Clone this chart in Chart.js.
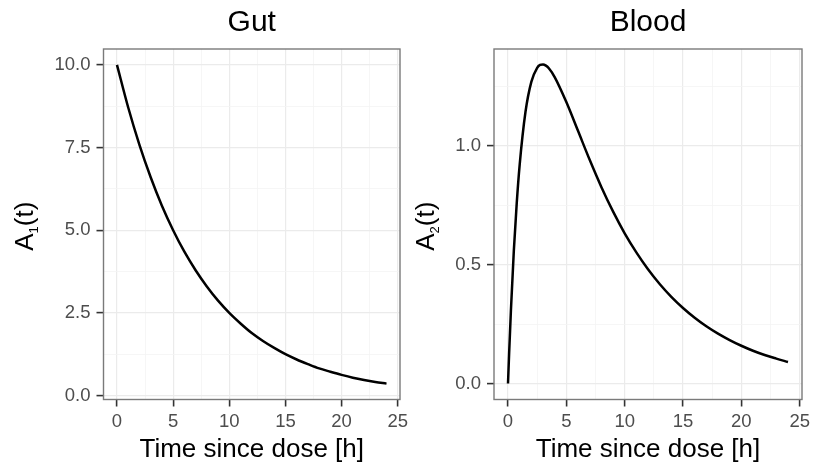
<!DOCTYPE html>
<html>
<head>
<meta charset="utf-8">
<script src="https://cdn.jsdelivr.net/npm/chart.js@4.4.0/dist/chart.umd.min.js"></script>
<style>
  html, body { margin: 0; padding: 0; background: #fff; }
  .panel { position: absolute; top: 0; height: 463px; }
  #gutBox { left: 0; width: 420px; }
  #bloodBox { left: 406px; width: 407px; }
</style>
</head>
<body>
<div class="panel" id="gutBox"><canvas id="gutChart"></canvas></div>
<div class="panel" id="bloodBox"><canvas id="bloodChart"></canvas></div>
<script>
// values
const gutTime = [0, 1, 2, 3, 4, 5, 6, 7, 8, 9, 10, 11, 12, 13, 14, 15, 16, 17, 18, 19, 20, 21, 22, 23, 24];
const gutAmount = [10.0, 8.71, 7.58, 6.60, 5.74, 5.00, 4.35, 3.79, 3.30, 2.87, 2.50, 2.18, 1.89, 1.65, 1.44,
                   1.25, 1.09, 0.95, 0.82, 0.72, 0.625, 0.54, 0.47, 0.41, 0.36];

const bloodTime = [0, 0.1, 0.25, 0.5, 0.75, 1, 1.5, 2, 2.5, 2.75, 3, 3.25, 3.5, 4, 5, 6, 7, 8, 9, 10,
                   11, 12, 13, 14, 15, 16, 17, 18, 19, 20, 21, 22, 23, 24];
const bloodAmount = [0, 0.131, 0.308, 0.559, 0.760, 0.920, 1.143, 1.269, 1.328, 1.340, 1.342, 1.337, 1.326,
                     1.289, 1.184, 1.063, 0.941, 0.827, 0.724, 0.632, 0.552, 0.481, 0.419, 0.365, 0.318,
                     0.277, 0.241, 0.210, 0.183, 0.159, 0.138, 0.120, 0.105, 0.091];

const timeMajor = [0, 5, 10, 15, 20, 25];
const timeMinor = [2.5, 7.5, 12.5, 17.5, 22.5];
const gutMajor = [0, 2.5, 5, 7.5, 10];
const gutMinor = [1.25, 3.75, 6.25, 8.75];
const bloodMajor = [0, 0.5, 1.0];
const bloodMinor = [0.25, 0.75, 1.25];

const FONT = '"Liberation Sans", Arial, Helvetica, sans-serif';

const isIn = (arr, v) => arr.some(a => Math.abs(a - v) < 1e-9);

// ggplot-like panel border, drawn over the curve
const panelBorder = {
    id: 'panelBorder',
    afterDatasetsDraw(chart) {
        const { ctx, chartArea: a } = chart;
        ctx.save();
        ctx.strokeStyle = '#7a7a7a';
        ctx.lineWidth = 1.4;
        ctx.strokeRect(a.left, a.top, a.right - a.left, a.bottom - a.top);
        ctx.restore();
    }
};

// panel title centred over the panel, and y title with a real subscript: A_n(t)
const labels = {
    id: 'labels',
    afterDraw(chart, args, opts) {
        const { ctx, chartArea: a } = chart;
        const big = '26px ' + FONT;
        const small = '13px ' + FONT;
        ctx.save();
        ctx.fillStyle = '#000';
        ctx.font = '30px ' + FONT;
        ctx.textAlign = 'center';
        ctx.textBaseline = 'middle';
        ctx.fillText(opts.title, (a.left + a.right) / 2, 23);

        ctx.translate(a.left - opts.offset, (a.top + a.bottom) / 2 + 2);
        ctx.rotate(-Math.PI / 2);
        ctx.textBaseline = 'alphabetic';
        ctx.textAlign = 'left';
        ctx.font = big;
        const wA = ctx.measureText('A').width;
        const wR = ctx.measureText('(t)').width;
        ctx.font = small;
        const wS = ctx.measureText(opts.sub).width;
        let x = -(wA + wS + wR) / 2;
        ctx.font = big;
        ctx.fillText('A', x, 0);
        x += wA;
        ctx.font = small;
        ctx.fillText(opts.sub, x, 4.5);
        x += wS;
        ctx.font = big;
        ctx.fillText('(t)', x, 0);
        ctx.restore();
    }
};

const makeChart = (id, title, xs, ys, yMin, yMax, yMajor, yMinor, yAxisWidth, rightPad, sub, titleOffset) => {
    const ctx = document.getElementById(id).getContext('2d');
    const points = xs.map((t, i) => ({ x: t, y: ys[i] }));

    new Chart(ctx, {
        type: 'line',
        data: {
            datasets: [{
                data: points,
                borderColor: '#000',
                borderWidth: 2.5,
                pointRadius: 0,
                fill: false,
                cubicInterpolationMode: 'monotone'
            }]
        },
        options: {
            responsive: true,
            maintainAspectRatio: false,
            animation: false,
            layout: { padding: { left: 0, right: rightPad, top: 49, bottom: 0 } },
            scales: {
                x: {
                    type: 'linear',
                    min: -1.2,
                    max: 25.2,
                    afterBuildTicks: s => { s.ticks = [...timeMajor, ...timeMinor].sort((a, b) => a - b).map(v => ({ value: v })); },
                    afterFit: s => { s.height = 63.5; s.paddingLeft = 0; s.paddingRight = 0; },
                    border: { display: false },
                    grid: {
                        color: c => isIn(timeMajor, c.tick.value) ? '#ebebeb' : '#f4f4f4',
                        lineWidth: c => isIn(timeMajor, c.tick.value) ? 1.2 : 0.8,
                        tickLength: 7,
                        tickColor: c => isIn(timeMajor, c.tick.value) ? '#333' : 'rgba(0,0,0,0)',
                        tickWidth: 1.6
                    },
                    ticks: {
                        autoSkip: false,
                        maxRotation: 0,
                        padding: 4,
                        color: '#4d4d4d',
                        font: { family: FONT, size: 18.5 },
                        callback: v => isIn(timeMajor, v) ? String(v) : ''
                    },
                    title: {
                        display: true,
                        text: 'Time since dose [h]',
                        color: '#000',
                        font: { family: FONT, size: 26, lineHeight: 1 },
                        padding: { top: 0, bottom: 0 }
                    }
                },
                y: {
                    min: yMin,
                    max: yMax,
                    afterBuildTicks: s => { s.ticks = [...yMajor, ...yMinor].sort((a, b) => a - b).map(v => ({ value: v })); },
                    afterFit: s => { s.width = yAxisWidth; s.paddingTop = 0; s.paddingBottom = 0; },
                    border: { display: false },
                    grid: {
                        color: c => isIn(yMajor, c.tick.value) ? '#ebebeb' : '#f4f4f4',
                        lineWidth: c => isIn(yMajor, c.tick.value) ? 1.2 : 0.8,
                        tickLength: 7,
                        tickColor: c => isIn(yMajor, c.tick.value) ? '#333' : 'rgba(0,0,0,0)',
                        tickWidth: 1.6
                    },
                    ticks: {
                        autoSkip: false,
                        padding: 6,
                        color: '#4d4d4d',
                        font: { family: FONT, size: 18.5 },
                        callback: v => isIn(yMajor, v) ? v.toFixed(1) : ''
                    }
                }
            },
            plugins: {
                legend: { display: false },
                tooltip: { enabled: false },
                title: { display: false },
                labels: { title: title, sub: sub, offset: titleOffset }
            }
        },
        plugins: [panelBorder, labels]
    });
};

makeChart('gutChart', 'Gut', gutTime, gutAmount, -0.12, 10.48, gutMajor, gutMinor, 103.5, 20, '1', 70.2);
makeChart('bloodChart', 'Blood', bloodTime, bloodAmount, -0.067, 1.407, bloodMajor, bloodMinor, 88, 11, '2', 60);
</script>
</body>
</html>
